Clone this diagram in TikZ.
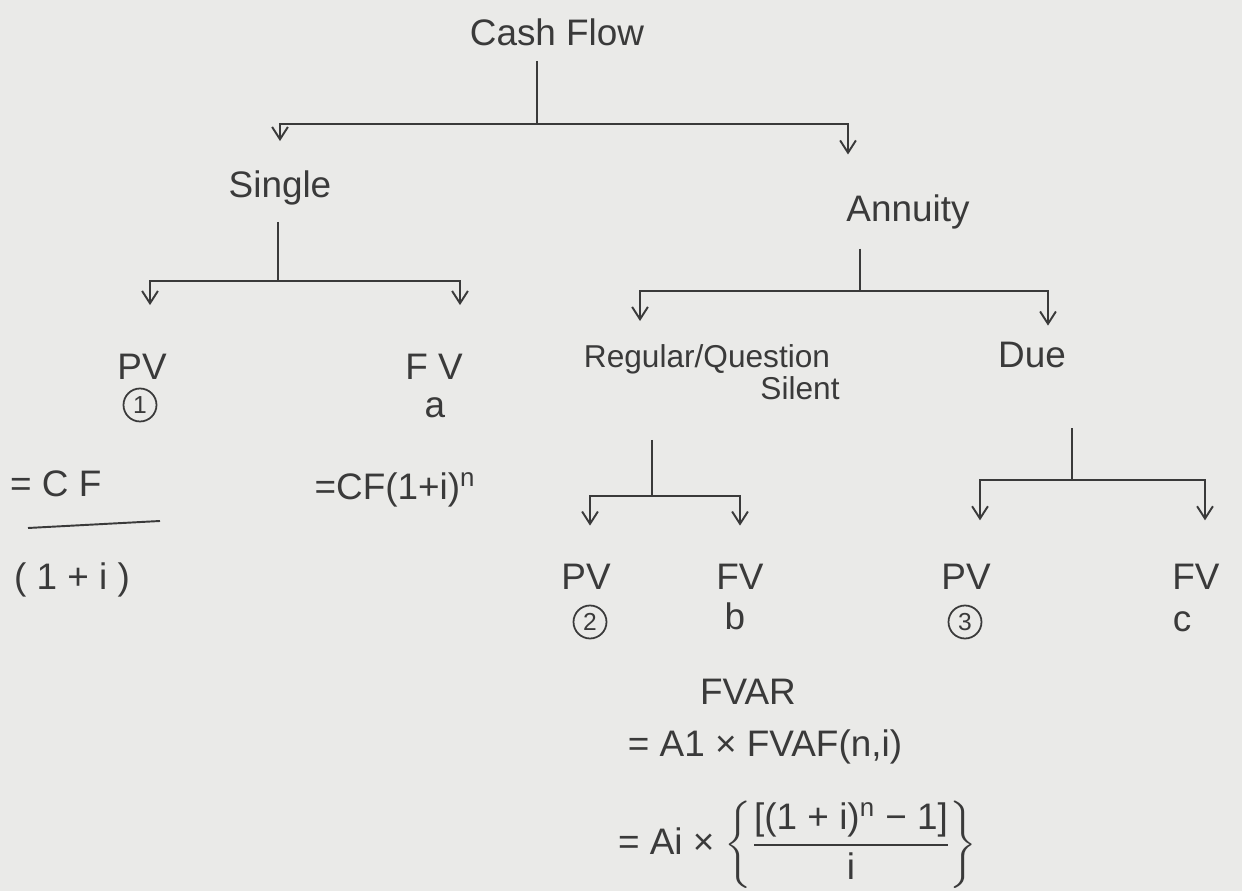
\documentclass[tikz,border=0pt]{standalone}
\usepackage{amsmath}
\usepackage{fontspec}
\setmainfont{Liberation Sans}
\usetikzlibrary{arrows.meta}
\definecolor{ink}{HTML}{3A3A3A}
\definecolor{paper}{HTML}{EAEAE8}
\begin{document}
\begin{tikzpicture}[x=0.02cm,y=-0.02cm,
  lbl/.style={text=ink,font=\fontsize{21}{25}\selectfont,inner sep=1pt,anchor=base},
  ln/.style={draw=ink,line width=1.1pt},
  arr/.style={ln,-{Straight Barb[length=7pt,width=9pt]}},
  num/.style={draw=ink,text=ink,circle,line width=1pt,minimum size=0.66cm,inner sep=0pt,font=\fontsize{14}{15}\selectfont}]
\fill[paper] (0,0) rectangle (1242,891);
\useasboundingbox (0,0) rectangle (1242,891);

% level 0
\node[lbl] (cf) at (557,46) {Cash Flow};
\coordinate (j1) at (537,124);
\draw[ln,shorten <=7pt] (j1 |- cf.south) -- (j1);

% level 1
\node[lbl] (single) at (280,198) {Single};
\node[lbl] (annuity) at (908,222) {Annuity};
\draw[arr,shorten >=16pt] (j1) -| (single.north);
\draw[arr,shorten >=22pt] (j1) -| ([xshift=-1.2cm]annuity.north);

% single branch
\coordinate (j2) at (278,281);
\draw[ln,shorten <=8pt] (j2 |- single.south) -- (j2);
\node[lbl] (pv1) at (142,380) {PV};
\node[lbl] (fv1) at (434,380) {F V};
\draw[arr,shorten >=27pt] (j2) -| ([xshift=0.16cm]pv1.north);
\draw[arr,shorten >=27pt] (j2) -| ([xshift=0.52cm]fv1.north);
\node[num] (n1) at (140,405) {1};
\node[lbl] (a) at (435,418) {a};
\node[lbl,anchor=base west] (eqcf) at (8,497) {= C F};
\draw[ln] (28,528) -- (160,521);
\node[lbl,anchor=base west] (den1) at (12,590) {( 1 + i )};
\node[lbl] (fvf) at (395,500) {=CF(1+i)\textsuperscript{n}};

% annuity branch
\coordinate (j3) at (860,291);
\draw[ln,shorten <=9.6pt] (j3 |- annuity.south) -- (j3);
\node[lbl,font=\fontsize{18}{22}\selectfont] (reg) at (707,368) {Regular/Question};
\node[lbl,font=\fontsize{18}{22}\selectfont] (sil) at (800,400) {Silent};
\node[lbl] (due) at (1032,368) {Due};
\draw[arr,shorten >=12.5pt] (j3) -| ([xshift=-1.34cm]reg.north);
\draw[arr,shorten >=8.5pt] (j3) -| ([xshift=0.32cm]due.north);

% regular branch
\coordinate (j4) at (652,496);
\draw[ln,shorten <=36pt] (j4 |- reg.south) -- (j4);
\node[lbl] (pv2) at (586,590) {PV};
\node[lbl] (fv2) at (740,590) {FV};
\draw[arr,shorten >=21pt] (j4) -| ([xshift=0.08cm]pv2.north);
\draw[arr,shorten >=21pt] (j4) -| (fv2.north);
\node[num] (n2) at (590,622) {2};
\node[lbl] (b) at (735,630) {b};

% due branch
\coordinate (j5) at (1072,480);
\draw[ln,shorten <=33pt] (j5 |- due.south) -- (j5);
\node[lbl] (pv3) at (966,590) {PV};
\node[lbl] (fv3) at (1196,590) {FV};
\draw[arr,shorten >=24pt] (j5) -| ([xshift=0.28cm]pv3.north);
\draw[arr,shorten >=24pt] (j5) -| ([xshift=0.18cm]fv3.north);
\node[num] (n3) at (965,622) {3};
\node[lbl] (c) at (1182,632) {c};

% formulas
\node[lbl] (fvar) at (748,705) {FVAR};
\node[lbl] (f1) at (765,757) {= A1 × FVAF(n,i)};
\node[lbl,anchor=west] (f2) at (616,845) {= Ai × $\left\{\dfrac{\text{[(1 + i)\textsuperscript{n} − 1]}}{\text{i}}\right\}$};
\end{tikzpicture}
\end{document}
